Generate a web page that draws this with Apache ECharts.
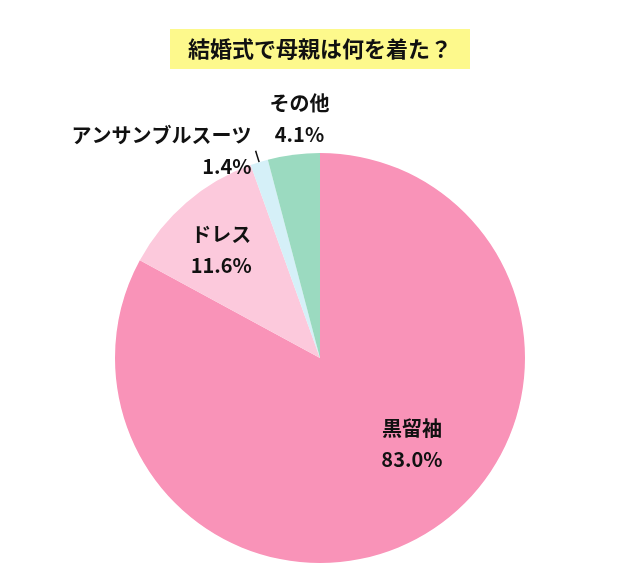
<!DOCTYPE html>
<html><head><meta charset="utf-8">
<script src="https://cdn.jsdelivr.net/npm/echarts@6/dist/echarts.min.js"></script>
<style>html,body{margin:0;background:#fff}#c{width:640px;height:580px}</style>
</head><body><div id="c"></div>
<script>
const title = '結婚式で母親は何を着た？';
const categories = ['黒留袖', 'ドレス', 'アンサンブルスーツ', 'その他'];
const values = [83.0, 11.6, 1.4, 4.1];
const colors = ['#f993b8', '#fcc9dc', '#d5f0f8', '#9bdac0'];
const font = '"Noto Sans CJK JP", sans-serif';
const labelCfg = [
  {position:'inside', offset:[38,-5]},
  {position:'inside', offset:[-30,-28]},
  {position:'outside', distanceToLabelLine:4},
  {position:'inside', offset:[-7,-134]}
];
const chart = echarts.init(document.getElementById('c'));
chart.setOption({
  animation:false,
  title:{text:title,left:'center',top:29,padding:[9,18],backgroundColor:'#fdf98c',
    textStyle:{fontFamily:font,fontSize:22,fontWeight:'bold',color:'#111'}},
  series:[{type:'pie',center:[320,358],radius:[0,205],startAngle:90,clockwise:true,
    avoidLabelOverlap:false,
    labelLayout:{hideOverlap:false},
    label:{fontFamily:font,fontSize:20,fontWeight:'bold',color:'#111',lineHeight:31,align:'center',
      formatter:p=>p.name+'\n'+p.value.toFixed(1)+'%'},
    labelLine:{lineStyle:{color:'#111',width:1.5},length:12,length2:0},
    data:categories.map((n,i)=>({name:n,value:values[i],itemStyle:{color:colors[i]},
      label:labelCfg[i],labelLine:{show:i===2}}))
  }]
});
</script></body></html>
